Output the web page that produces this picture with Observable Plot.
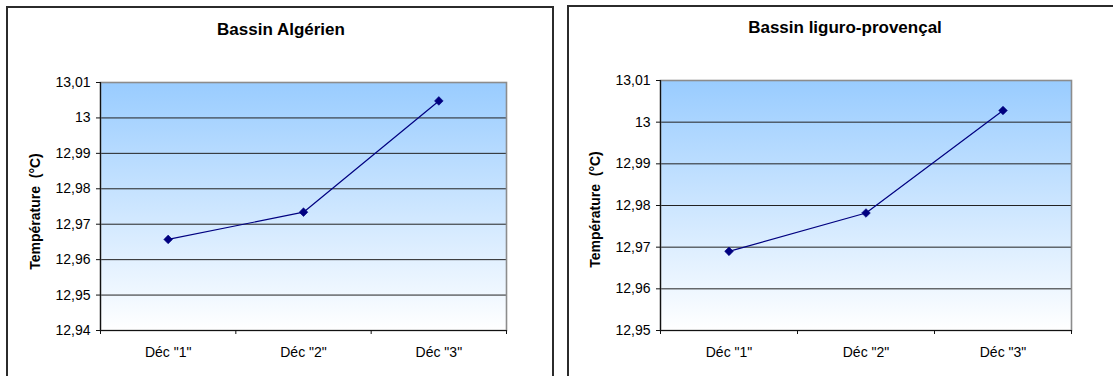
<!DOCTYPE html>
<html>
<head>
<meta charset="utf-8">
<script src="https://cdn.jsdelivr.net/npm/d3@7"></script>
<script src="https://cdn.jsdelivr.net/npm/@observablehq/plot@0.6"></script>
<style>
  html, body { margin: 0; padding: 0; background: #fff; width: 1113px; height: 376px; overflow: hidden; }
  .panel { position: absolute; box-sizing: border-box; border: 2px solid #2b2b2b; background: #fff; }
  .panel svg { position: absolute; left: 0; top: 0; }
  .title { position: absolute; width: 400px; text-align: center; font: bold 17px "Liberation Sans", Arial, sans-serif; color: #000; line-height: 20px; }
</style>
</head>
<body>
<div id="p1" class="panel" style="left:6px;top:6px;width:548px;height:382px"></div>
<div id="p2" class="panel" style="left:567px;top:5px;width:560px;height:383px"></div>
<script>
// Decade categories on the x axis
const decades = ['Déc "1"', 'Déc "2"', 'Déc "3"'];

// Mean temperature (°C) per decade, for each basin
const algerien = [12.9657, 12.9734, 13.0048];
const liguro = [12.969, 12.9782, 13.0028];

// Y-axis ticks of each panel
const ticksAlgerien = [12.94, 12.95, 12.96, 12.97, 12.98, 12.99, 13.00, 13.01];
const ticksLiguro = [12.95, 12.96, 12.97, 12.98, 12.99, 13.00, 13.01];

const yLabel = "Température  (°C)";
const frenchNumber = d => String(+d.toFixed(2)).replace(".", ",");

function panel(el, {title, values, ticks, gradId, width, height, margins, titleLeft, titleTop, labelDx, labelDy}) {
  const data = values.map((v, i) => ({pos: i + 0.5, value: v}));
  const t = document.createElement("div");
  t.className = "title";
  t.style.left = titleLeft + "px";
  t.style.top = titleTop + "px";
  t.textContent = title;
  el.appendChild(t);

  const chart = Plot.plot({
    width, height,
    marginLeft: margins[0], marginTop: margins[1], marginRight: margins[2], marginBottom: margins[3],
    style: {fontFamily: '"Liberation Sans", Arial, sans-serif', fontSize: "14px", color: "#000", background: "transparent"},
    x: {type: "linear", domain: [0, decades.length], axis: null, label: null},
    y: {domain: [ticks[0], ticks[ticks.length - 1]], axis: null, label: null},
    marks: [
      // gradient used for the plot area fill
      () => {
        const defs = d3.create("svg:defs");
        const g = defs.append("linearGradient").attr("id", gradId)
          .attr("x1", 0).attr("y1", 0).attr("x2", 0).attr("y2", 1);
        g.append("stop").attr("offset", "0%").attr("stop-color", "#99ccff");
        g.append("stop").attr("offset", "100%").attr("stop-color", "#ffffff");
        return defs.node();
      },
      Plot.frame({fill: `url(#${gradId})`, stroke: "none"}),
      Plot.ruleY(ticks.slice(1, -1), {stroke: "#222", strokeWidth: 1}),
      Plot.frame({stroke: "#8c8c8c", strokeWidth: 1.6, fill: "none"}),
      Plot.ruleX([0], {stroke: "#111", strokeWidth: 1.2}),
      Plot.ruleY([ticks[0]], {stroke: "#111", strokeWidth: 1.2}),
      Plot.axisY(ticks, {tickSize: 4, tickPadding: 6, tickFormat: frenchNumber, stroke: "#111", fontSize: 14, label: null}),
      Plot.axisX(d3.range(decades.length + 1), {tickSize: 4, tickFormat: () => "", stroke: "#111", label: null}),
      Plot.axisX(decades.map((d, i) => i + 0.5), {tickSize: 0, tickPadding: 17, tickFormat: d => decades[Math.round(d - 0.5)], fontSize: 14, label: null}),
      Plot.line(data, {x: "pos", y: "value", stroke: "#000080", strokeWidth: 1.2}),
      Plot.dot(data, {x: "pos", y: "value", symbol: "diamond2", r: 3.9, fill: "#000080", stroke: "#000080", strokeWidth: 0.6}),
      Plot.text([yLabel], {frameAnchor: "left", rotate: -90, dx: labelDx, dy: labelDy, fontWeight: "bold", fontSize: 14, textAnchor: "middle"})
    ]
  });
  el.appendChild(chart);
}

panel(document.getElementById("p1"), {
  title: "Bassin Algérien", values: algerien, ticks: ticksAlgerien, gradId: "fillAlgerien",
  width: 544, height: 378, margins: [92, 74, 46, 56],
  titleLeft: 73, titleTop: 12, labelDx: -64.5, labelDy: 5
});

panel(document.getElementById("p2"), {
  title: "Bassin liguro-provençal", values: liguro, ticks: ticksLiguro, gradId: "fillLiguro",
  width: 556, height: 379, margins: [91, 73, 54, 56],
  titleLeft: 76, titleTop: 11, labelDx: -64.5, labelDy: 4
});
</script>
</body>
</html>
